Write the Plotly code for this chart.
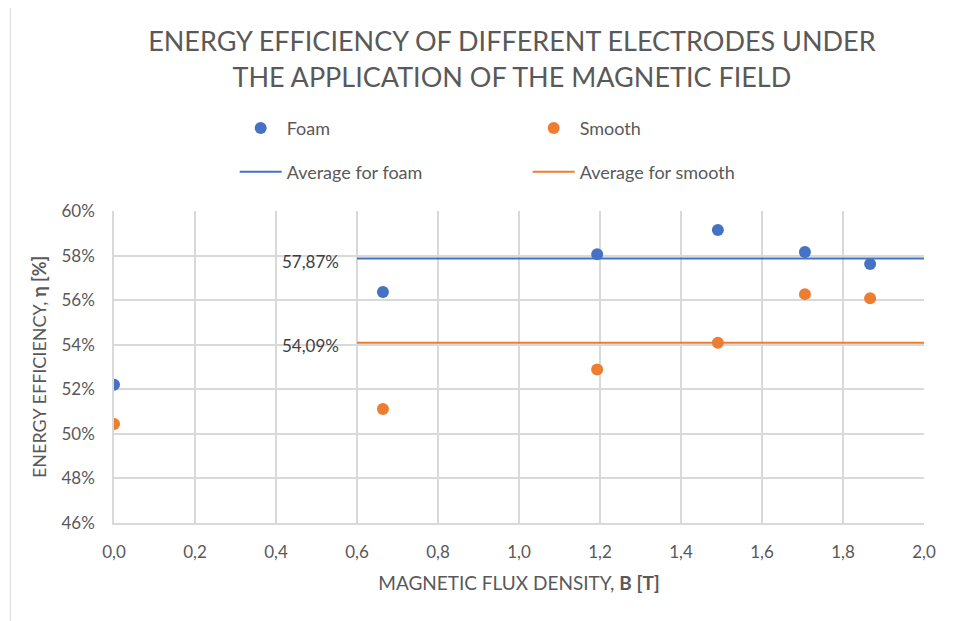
import plotly.graph_objects as go

# magnetic flux density B [T]
b_foam = [0.0, 0.664, 1.193, 1.491, 1.706, 1.867]
eff_foam = [0.5220, 0.5637, 0.5806, 0.5915, 0.5816, 0.5762]

b_smooth = [0.0, 0.664, 1.193, 1.491, 1.706, 1.867]
eff_smooth = [0.5044, 0.5112, 0.5289, 0.5409, 0.5627, 0.5609]

avg_x = [0.6, 2.0]
avg_foam = 0.5787
avg_smooth = 0.5409

BLUE = "#4472C4"
ORANGE = "#ED7D31"
GREY_TXT = "#595959"
GRID = "#D9D9D9"
FONT = "Lato, 'Open Sans', sans-serif"

fig = go.Figure()
fig.add_trace(go.Scatter(x=b_foam, y=eff_foam, mode="markers", name="Foam",
                         marker=dict(color=BLUE, size=12), legend="legend"))
fig.add_trace(go.Scatter(x=b_smooth, y=eff_smooth, mode="markers", name="Smooth",
                         marker=dict(color=ORANGE, size=12), legend="legend"))
fig.add_trace(go.Scatter(x=avg_x, y=[avg_foam] * 2, mode="lines", name="Average for foam",
                         line=dict(color=BLUE, width=2), legend="legend2"))
fig.add_trace(go.Scatter(x=avg_x, y=[avg_smooth] * 2, mode="lines", name="Average for smooth",
                         line=dict(color=ORANGE, width=2), legend="legend2"))

for v in (avg_foam, avg_smooth):
    fig.add_annotation(x=avg_x[0], y=v, text=f"{v * 100:.2f}%".replace(".", ","),
                       showarrow=False, xanchor="right", xshift=-16, yshift=-3,
                       font=dict(size=17, color="#404040", family=FONT))

legend_common = dict(orientation="h", xanchor="left", yanchor="middle",
                     entrywidth=236, itemwidth=42, bgcolor="rgba(0,0,0,0)",
                     font=dict(size=18, color=GREY_TXT, family=FONT))

fig.update_layout(
    width=969, height=621,
    paper_bgcolor="white", plot_bgcolor="white",
    separators=", ",
    margin=dict(l=106, r=53, t=203, b=106),
    font=dict(family=FONT, color=GREY_TXT),
    title=dict(text="ENERGY EFFICIENCY OF DIFFERENT ELECTRODES UNDER<br>THE APPLICATION OF THE MAGNETIC FIELD",
               x=0.52, xanchor="center", y=0.93, yanchor="top",
               font=dict(size=27, color=GREY_TXT, family=FONT)),
    legend=dict(x=0.149, y=1.265, **legend_common),
    legend2=dict(x=0.149, y=1.125, **legend_common),
    xaxis=dict(range=[0, 2.0], dtick=0.2, tick0=0, tickformat=".1f",
               showgrid=True, gridcolor=GRID, gridwidth=1.5,
               showline=True, linecolor=GRID, linewidth=1.5, zeroline=False,
               ticks="", ticklabelstandoff=13, tickfont=dict(size=17, color=GREY_TXT),
               title=dict(text="MAGNETIC FLUX DENSITY, <b>B [T]</b>", standoff=16,
                          font=dict(size=19, color=GREY_TXT))),
    yaxis=dict(range=[0.46, 0.60], dtick=0.02, tickformat=".0%",
               showgrid=True, gridcolor=GRID, gridwidth=1.5,
               showline=True, linecolor=GRID, linewidth=1.5, zeroline=False,
               ticks="", ticklabelstandoff=14, tickfont=dict(size=17, color=GREY_TXT),
               title=dict(text="ENERGY EFFICIENCY, <b>η [%]</b>", standoff=10,
                          font=dict(size=18, color=GREY_TXT))),
)

fig.add_shape(type="line", xref="paper", yref="paper", x0=-0.128, x1=-0.128, y0=-0.4, y1=1.7,
              line=dict(color=GRID, width=1))

fig.write_html("out.html")
